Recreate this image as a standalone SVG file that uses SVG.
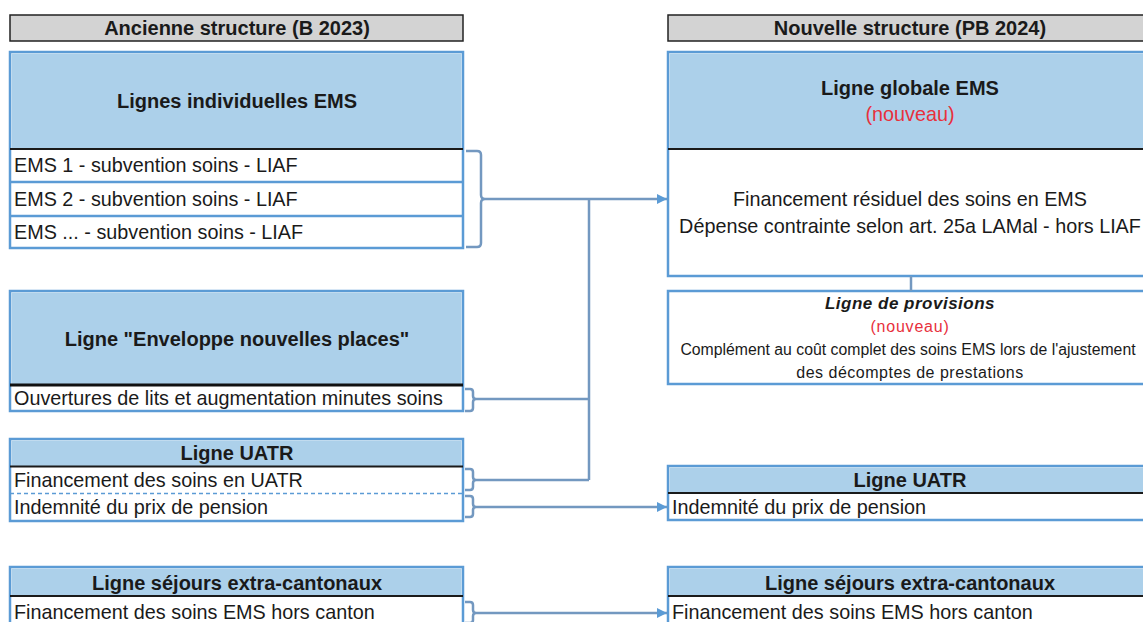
<svg xmlns="http://www.w3.org/2000/svg" width="1143" height="622" viewBox="0 0 1143 622">
<defs>
<style>
.hdr{fill:#d3d3d3;stroke:#222;stroke-width:1.5}
.box{fill:#fff;stroke:#5b9bd5;stroke-width:2.5}
.blue{fill:#acd0ea}
.sep{stroke:#5b9bd5;stroke-width:2.5}
.blk{stroke:#1a1a1a;stroke-width:2}
.t{font-family:"Liberation Sans",Arial,sans-serif;font-size:19.8px;fill:#1a1a1a}
.b{font-family:"Liberation Sans",Arial,sans-serif;font-size:20px;font-weight:bold;fill:#1a1a1a}
.s{font-family:"Liberation Sans",Arial,sans-serif;font-size:16px;letter-spacing:0.2px;fill:#1a1a1a}
.red{fill:#e8303c}
.con{fill:none;stroke:#7398c0;stroke-width:2.5}
</style>
<marker id="arr" viewBox="0 0 10 10" refX="10" refY="5" markerWidth="10" markerHeight="10" markerUnits="userSpaceOnUse" orient="auto">
<path d="M0,0 L10,5 L0,10 z" fill="#5b9bd5"/>
</marker>
</defs>

<g id="hdr-left">
<rect class="hdr" x="10" y="15" width="453" height="26"/>
<text class="b" x="237" y="35" text-anchor="middle">Ancienne structure (B 2023)</text>
</g>
<g id="hdr-right">
<rect class="hdr" x="668" y="15" width="490" height="26"/>
<text class="b" x="910" y="35" text-anchor="middle">Nouvelle structure (PB 2024)</text>
</g>

<g id="left-ems">
<rect class="box" x="10" y="52" width="453" height="196"/>
<rect class="blue" x="11.5" y="53.5" width="450" height="95.5"/>
<line class="blk" x1="10" y1="149" x2="463" y2="149"/>
<line class="sep" x1="10" y1="182" x2="463" y2="182"/>
<line class="sep" x1="10" y1="216" x2="463" y2="216"/>
<text class="b" x="237" y="108" text-anchor="middle">Lignes individuelles EMS</text>
<text class="t" x="14" y="172">EMS 1 - subvention soins - LIAF</text>
<text class="t" x="14" y="206">EMS 2 - subvention soins - LIAF</text>
<text class="t" x="14" y="239">EMS ... - subvention soins - LIAF</text>
</g>

<g id="left-enveloppe">
<rect class="box" x="10" y="291" width="453" height="120"/>
<rect class="blue" x="11.5" y="292.5" width="450" height="92.5"/>
<line stroke="#111" stroke-width="3" x1="10" y1="385" x2="463" y2="385"/>
<text class="b" x="237" y="346" text-anchor="middle">Ligne "Enveloppe nouvelles places"</text>
<text class="t" x="14" y="405">Ouvertures de lits et augmentation minutes soins</text>
</g>

<g id="left-uatr">
<rect class="box" x="10" y="439" width="453" height="82"/>
<rect class="blue" x="11.5" y="440.5" width="450" height="25.5"/>
<line class="blk" x1="10" y1="466.5" x2="463" y2="466.5"/>
<line stroke="#5b9bd5" stroke-width="1.5" stroke-dasharray="4,3" x1="10" y1="493.5" x2="463" y2="493.5"/>
<text class="b" x="237" y="460" text-anchor="middle">Ligne UATR</text>
<text class="t" x="14" y="487">Financement des soins en UATR</text>
<text class="t" x="14" y="514">Indemnité du prix de pension</text>
</g>

<g id="left-sejours">
<rect class="box" x="10" y="567" width="453" height="70"/>
<rect class="blue" x="11.5" y="568.5" width="450" height="27.5"/>
<line class="blk" x1="10" y1="596" x2="463" y2="596"/>
<text class="b" x="237" y="590" text-anchor="middle">Ligne séjours extra-cantonaux</text>
<text class="t" x="14" y="619">Financement des soins EMS hors canton</text>
</g>

<g id="right-globale">
<rect class="box" x="668" y="52" width="490" height="224"/>
<rect class="blue" x="669.5" y="53.5" width="488" height="95.5"/>
<line class="blk" x1="668" y1="149" x2="1158" y2="149"/>
<text class="b" x="910" y="95" text-anchor="middle">Ligne globale EMS</text>
<text class="t red" x="910" y="121" text-anchor="middle" font-size="17">(nouveau)</text>
<text class="t" x="910" y="206" text-anchor="middle">Financement résiduel des soins en EMS</text>
<text class="t" x="910" y="233" text-anchor="middle">Dépense contrainte selon art. 25a LAMal - hors LIAF</text>
</g>

<g id="right-provisions">
<rect class="box" x="668" y="291" width="490" height="93"/>
<text class="s" x="910" y="309" text-anchor="middle" style="font-weight:bold;font-style:italic;font-size:17px;letter-spacing:0.5px">Ligne de provisions</text>
<text class="s red" x="910" y="332" text-anchor="middle" style="letter-spacing:0.8px">(nouveau)</text>
<text class="s" x="908" y="355" text-anchor="middle" style="letter-spacing:0;font-size:15.8px">Complément au coût complet des soins EMS lors de l'ajustement</text>
<text class="s" x="910" y="378" text-anchor="middle" style="letter-spacing:0.5px">des décomptes de prestations</text>
</g>

<g id="right-uatr">
<rect class="box" x="668" y="466" width="490" height="54"/>
<rect class="blue" x="669.5" y="467.5" width="488" height="25.5"/>
<line class="blk" x1="668" y1="493" x2="1158" y2="493"/>
<text class="b" x="910" y="487" text-anchor="middle">Ligne UATR</text>
<text class="t" x="672" y="514">Indemnité du prix de pension</text>
</g>

<g id="right-sejours">
<rect class="box" x="668" y="567" width="490" height="70"/>
<rect class="blue" x="669.5" y="568.5" width="488" height="27.5"/>
<line class="blk" x1="668" y1="596" x2="1158" y2="596"/>
<text class="b" x="910" y="590" text-anchor="middle">Ligne séjours extra-cantonaux</text>
<text class="t" x="672" y="619">Financement des soins EMS hors canton</text>
</g>

<g id="connectors">
<path class="con" d="M466,151 H477 Q481,151 481,155 V195 Q481,199 485,199 Q481,199 481,203 V243 Q481,247 477,247 H466"/>
<path class="con" d="M485,199 H667" marker-end="url(#arr)"/>
<path class="con" d="M589,199 V480"/>
<path class="con" d="M465,389 H470 Q473,389 473,392 V396 Q473,399 476,399 Q473,399 473,402 V408 Q473,411 470,411 H465"/>
<path class="con" d="M476,399 H589"/>
<path class="con" d="M465,469 H470 Q473,469 473,472 V477 Q473,480 476,480 Q473,480 473,483 V487 Q473,490 470,490 H465"/>
<path class="con" d="M476,480 H589"/>
<path class="con" d="M465,496 H470 Q473,496 473,499 V504 Q473,507 476,507 Q473,507 473,510 V514 Q473,517 470,517 H465"/>
<path class="con" d="M476,507 H667" marker-end="url(#arr)"/>
<path class="con" d="M465,602 H470 Q473,602 473,605 V610 Q473,613 476,613 Q473,613 473,616 V620 Q473,623 470,623 H465"/>
<path class="con" d="M476,613 H667" marker-end="url(#arr)"/>
<path class="con" d="M911,276 V291"/>
</g>
</svg>
